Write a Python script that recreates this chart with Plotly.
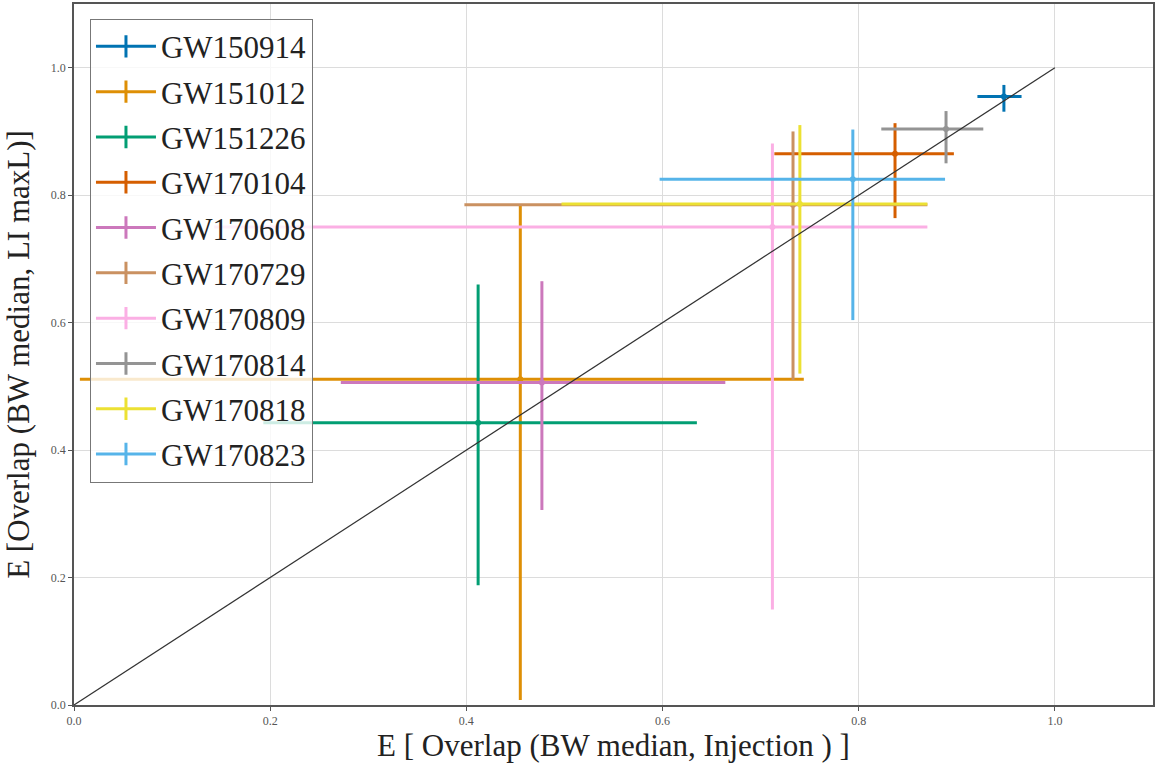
import plotly.graph_objects as go

events = ["GW150914", "GW151012", "GW151226", "GW170104", "GW170608",
          "GW170729", "GW170809", "GW170814", "GW170818", "GW170823"]
colors = ["#0173B2", "#DE8F05", "#029E73", "#D55E00", "#CC78BC",
          "#CA9161", "#FBAFE4", "#949494", "#ECE133", "#56B4E9"]

# x: E[Overlap(BW median, Injection)] median and 90% bounds
x_med = [0.948, 0.455, 0.412, 0.837, 0.477, 0.733, 0.712, 0.889, 0.740, 0.794]
x_lo  = [0.921, 0.006, 0.193, 0.714, 0.272, 0.398, 0.143, 0.823, 0.497, 0.597]
x_hi  = [0.966, 0.744, 0.635, 0.897, 0.664, 0.870, 0.870, 0.927, 0.870, 0.888]
# y: E[Overlap(BW median, LI maxL)] median and bounds
y_med = [0.955, 0.511, 0.443, 0.865, 0.506, 0.785, 0.750, 0.904, 0.786, 0.825]
y_lo  = [0.931, 0.008, 0.188, 0.764, 0.306, 0.510, 0.150, 0.850, 0.520, 0.604]
y_hi  = [0.973, 0.784, 0.660, 0.913, 0.665, 0.900, 0.881, 0.932, 0.910, 0.903]

diag = [0.0, 1.0]
tick_vals = [0.0, 0.2, 0.4, 0.6, 0.8, 1.0]

FONT = "Liberation Serif"

fig = go.Figure()

for i, name in enumerate(events):
    c = colors[i]
    fig.add_trace(go.Scatter(
        x=[x_med[i]], y=[y_med[i]], mode="markers",
        marker=dict(color=c, size=6),
        error_x=dict(type="data", symmetric=False,
                     array=[x_hi[i] - x_med[i]], arrayminus=[x_med[i] - x_lo[i]],
                     color=c, thickness=3, width=0),
        error_y=dict(type="data", symmetric=False,
                     array=[y_hi[i] - y_med[i]], arrayminus=[y_med[i] - y_lo[i]],
                     color=c, thickness=3, width=0),
        showlegend=False, hoverinfo="skip",
    ))

fig.add_trace(go.Scatter(x=diag, y=diag, mode="lines",
                         line=dict(color="#333333", width=1.2),
                         showlegend=False, hoverinfo="skip"))

# legend entries
for i, name in enumerate(events):
    c = colors[i]
    fig.add_trace(go.Scatter(
        x=[None], y=[None], mode="lines+markers", name=name,
        legendgroup=name,
        line=dict(color=c, width=3),
        marker=dict(symbol="line-ns", size=22, color=c,
                    line=dict(color=c, width=3)),
    ))

axis_common = dict(
    range=[0, 1.1], tickvals=tick_vals, ticktext=[f"{v:.1f}" for v in tick_vals],
    showgrid=True, gridcolor="#dcdcdc", gridwidth=1,
    zeroline=False, showline=True, linecolor="#555555", linewidth=1.5,
    mirror=True, ticks="outside", ticklen=4, tickcolor="#555555",
    tickfont=dict(family=FONT, size=12, color="#555555"),
)

fig.update_layout(
    width=1157, height=763,
    margin=dict(l=74, r=2, t=2, b=58),
    paper_bgcolor="white", plot_bgcolor="white",
    font=dict(family=FONT, color="#222222"),
    xaxis=dict(**axis_common,
               title=dict(text="E [ Overlap (BW median, Injection ) ]",
                          font=dict(family=FONT, size=31, color="#222222"),
                          standoff=6)),
    yaxis=dict(**axis_common,
               title=dict(text="E [Overlap (BW median, LI maxL)]",
                          font=dict(family=FONT, size=31, color="#222222"),
                          standoff=12)),
    legend=dict(x=0.0148, y=0.979, xanchor="left", yanchor="top",
                bgcolor="rgba(255,255,255,0.8)", bordercolor="#777777",
                borderwidth=1, font=dict(family=FONT, size=31, color="#222222"),
                itemwidth=60, tracegroupgap=2),
)

fig.write_html("out.html")
